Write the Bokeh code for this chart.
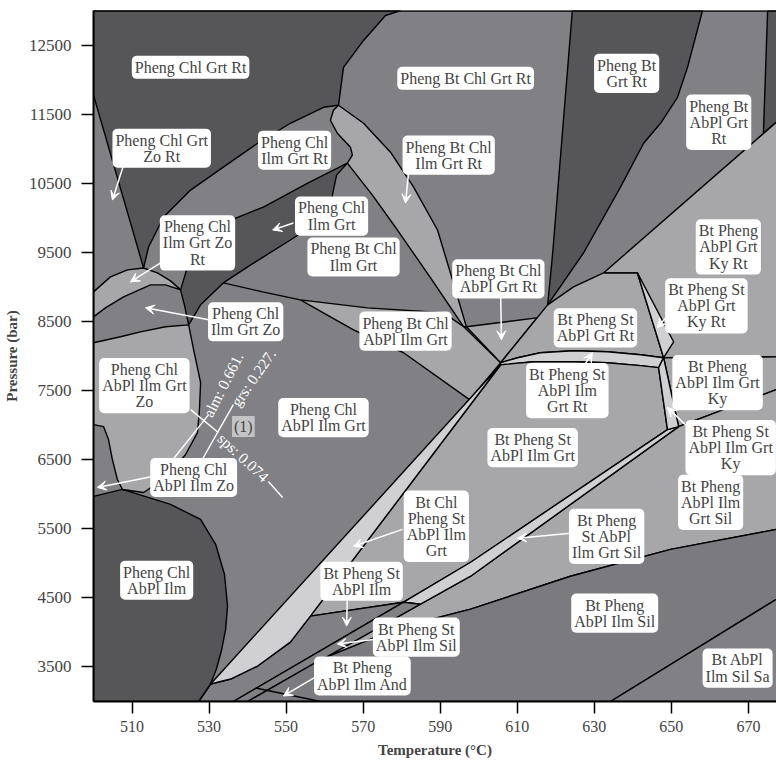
from bokeh.plotting import figure
from bokeh.models import ColumnDataSource, Label, Arrow, VeeHead, FixedTicker, Range1d, Span
from bokeh.embed import file_html
from bokeh.resources import INLINE

FONT = "Liberation Serif"
DARK = "#565659"
MED = "#818185"
LIGHT = "#a7a7aa"
PALE = "#d0d0d2"
SIL = "#7b7b7f"

temp_ticks = [510, 530, 550, 570, 590, 610, 630, 650, 670]
pressure_ticks = [3500, 4500, 5500, 6500, 7500, 8500, 9500, 10500, 11500, 12500]

# ---- stability fields: outlines in (T degC, P bar) ----
chl_grt_rt_T = [500.0, 579.7, 575.8, 570.1, 564.9, 564.1, 563.6, 559.7, 551.1, 542.6, 533.7, 525.2, 518.2, 514.3, 513.0, 500.0]
chl_grt_rt_P = [13000, 13000, 12928, 12567, 12177, 11845, 11628, 11599, 11368, 11079, 10733, 10401, 10011, 9578, 9274, 11773]

chl_ilm_grt_zo_rt_T = [500.0, 504.4, 508.8, 513.0, 516.6, 520.0, 522.6, 518.7, 514.8, 507.8, 503.1, 500.0]
chl_ilm_grt_zo_rt_P = [8928, 9145, 9246, 9274, 9202, 9087, 8957, 9029, 9029, 8856, 8697, 8567]

chl_ilm_grt_T = [522.6, 524.4, 527.8, 533.7, 544.1, 555.6, 565.9, 563.1, 562.0, 562.3, 551.1, 540.8, 533.7, 527.8, 524.7, 523.6]
chl_ilm_grt_P = [8957, 9289, 9679, 9924, 10155, 10502, 10791, 10618, 10329, 10083, 9679, 9318, 9058, 8740, 8451, 8740]

bt_chl_ilm_grt_rt_T = [563.6, 570.1, 577.1, 583.1, 589.3, 593.2, 596.8, 596.1, 587.5, 578.9, 572.4, 565.9, 567.2, 566.7, 563.3, 561.5, 562.3]
bt_chl_ilm_grt_rt_P = [11628, 11368, 10949, 10444, 9823, 9101, 8423, 8423, 9130, 9823, 10329, 10791, 10906, 11022, 11224, 11412, 11556]

bt_chl_abpl_ilm_grt_T = [553.7, 571.1, 590.9, 596.1, 605.7, 597.6, 580.5, 567.5]
bt_chl_abpl_ilm_grt_P = [8812, 8697, 8625, 8423, 7903, 7368, 8047, 8379]

bt_chl_abpl_grt_rt_T = [596.8, 615.1, 605.7]
bt_chl_abpl_grt_rt_P = [8423, 8552, 7903]

bt_grt_rt_T = [624.3, 658.1, 654.2, 651.6, 647.2, 642.8, 636.8, 627.2, 617.9, 619.2]
bt_grt_rt_P = [13000, 13000, 12177, 11744, 11368, 11079, 10444, 9491, 8740, 9491]

corner_T = [675.0, 680.0, 680.0, 673.9]
corner_P = [13000, 13000, 11517, 11224]

grt_ky_rt_T = [680.0, 632.4, 641.2, 648.0, 680.0]
grt_ky_rt_P = [11517, 9202, 9202, 7975, 7989]

st_abpl_grt_rt_T = [617.9, 624.6, 632.4, 641.2, 648.0, 642.0, 633.4, 624.6, 616.0, 610.1, 605.7]
st_abpl_grt_rt_P = [8740, 9000, 9202, 9202, 7975, 8018, 8062, 8076, 8047, 7975, 7903]

st_grt_ky_rt_T = [641.2, 650.6, 648.0]
st_grt_ky_rt_P = [9202, 8206, 7975]

st_ilm_grt_rt_T = [605.7, 610.1, 616.0, 624.6, 633.4, 642.0, 648.0, 646.7, 642.0, 633.4, 624.6, 618.6, 614.2, 605.7]
st_ilm_grt_rt_P = [7903, 7975, 8047, 8076, 8062, 8018, 7975, 7831, 7860, 7903, 7917, 7917, 7917, 7860]

ilm_grt_ky_T = [648.0, 680.0, 680.0, 651.9]
ilm_grt_ky_P = [7975, 7989, 7571, 6978]

ilm_grt_sil_T = [651.9, 680.0, 680.0, 677.3, 649.8, 623.8, 597.9, 579.7, 559.2, 597.9]
ilm_grt_sil_P = [6978, 7571, 5530, 5491, 5202, 4813, 4336, 4076, 3614, 4813]

st_abpl_ilm_grt_T = [556.3, 605.7, 614.2, 618.6, 624.6, 633.4, 642.0, 646.7, 649.0, 597.9, 580.5]
st_abpl_ilm_grt_P = [4235, 7874, 7917, 7917, 7917, 7903, 7860, 7831, 6935, 5015, 4437]

st_ilm_grt_sil_T = [649.0, 597.9, 580.5, 584.9, 597.9, 651.9]
st_ilm_grt_sil_P = [6935, 5015, 4437, 4408, 4813, 6978]

st_ilm_grt_ky_T = [648.0, 651.9, 649.0, 646.7]
st_ilm_grt_ky_P = [7975, 6978, 6935, 7831]

st_abpl_ilm_T = [530.4, 535.6, 542.6, 551.1, 556.3, 580.5, 536.3, 527.3]
st_abpl_ilm_P = [3253, 3325, 3513, 3859, 4235, 4437, 3000, 3000]

st_ilm_sil_T = [580.5, 584.9, 540.0, 536.3]
st_ilm_sil_P = [4437, 4408, 3000, 3000]

chl_st_ilm_grt_T = [530.4, 605.7, 556.3, 551.1, 542.6, 535.6]
chl_st_ilm_grt_P = [3253, 7874, 4235, 3859, 3513, 3325]

ilm_sil_T = [559.2, 579.7, 597.9, 623.8, 649.8, 677.3, 680.0, 680.0, 634.2, 540.0]
ilm_sil_P = [3614, 4076, 4336, 4813, 5202, 5491, 5530, 4574, 3000, 3000]

sil_sa_T = [634.2, 680.0, 680.0]
sil_sa_P = [3000, 4574, 3000]

chl_abpl_ilm_T = [500.0, 507.5, 520.0, 527.8, 531.7, 534.0, 534.8, 534.3, 533.2, 531.9, 530.4, 527.3, 500.0]
chl_abpl_ilm_P = [5968, 6069, 5852, 5636, 5275, 4842, 4379, 4047, 3730, 3470, 3253, 3000, 3000]

chl_abpl_ilm_grt_zo_T = [500.0, 507.0, 512.2, 518.7, 524.7, 526.0, 527.8, 527.5, 527.0, 523.9, 520.0, 516.1, 513.0, 507.5, 506.2, 504.9, 503.9, 502.6, 500.0]
chl_abpl_ilm_grt_zo_P = [8191, 8278, 8350, 8423, 8451, 8090, 7614, 7224, 6892, 6574, 6314, 6141, 6025, 6069, 6213, 6502, 6791, 6978, 7007]

# single reaction lines not closed by a field drawn above
bt_in_line_T = [533.7, 543.9, 553.7]
bt_in_line_P = [9058, 8928, 8812]
and_sil_T = [542.1, 558.9]
and_sil_P = [3195, 3000]

fields = [
    (chl_grt_rt_T, chl_grt_rt_P, DARK),
    (chl_ilm_grt_zo_rt_T, chl_ilm_grt_zo_rt_P, LIGHT),
    (chl_ilm_grt_T, chl_ilm_grt_P, DARK),
    (bt_chl_ilm_grt_rt_T, bt_chl_ilm_grt_rt_P, LIGHT),
    (bt_chl_abpl_ilm_grt_T, bt_chl_abpl_ilm_grt_P, LIGHT),
    (bt_chl_abpl_grt_rt_T, bt_chl_abpl_grt_rt_P, LIGHT),
    (bt_grt_rt_T, bt_grt_rt_P, DARK),
    (corner_T, corner_P, DARK),
    (grt_ky_rt_T, grt_ky_rt_P, LIGHT),
    (st_abpl_grt_rt_T, st_abpl_grt_rt_P, LIGHT),
    (st_grt_ky_rt_T, st_grt_ky_rt_P, PALE),
    (st_ilm_grt_rt_T, st_ilm_grt_rt_P, PALE),
    (ilm_grt_ky_T, ilm_grt_ky_P, LIGHT),
    (ilm_grt_sil_T, ilm_grt_sil_P, LIGHT),
    (st_abpl_ilm_grt_T, st_abpl_ilm_grt_P, LIGHT),
    (st_ilm_grt_sil_T, st_ilm_grt_sil_P, PALE),
    (st_ilm_grt_ky_T, st_ilm_grt_ky_P, PALE),
    (st_abpl_ilm_T, st_abpl_ilm_P, MED),
    (st_ilm_sil_T, st_ilm_sil_P, MED),
    (chl_st_ilm_grt_T, chl_st_ilm_grt_P, PALE),
    (ilm_sil_T, ilm_sil_P, SIL),
    (sil_sa_T, sil_sa_P, MED),
    (chl_abpl_ilm_T, chl_abpl_ilm_P, DARK),
    (chl_abpl_ilm_grt_zo_T, chl_abpl_ilm_grt_zo_P, LIGHT),
]

# field names: (T, P, text)
field_labels = [
    (525.2, 12177, "Pheng Chl Grt Rt"),
    (517.7, 11007, "Pheng Chl Grt\nZo Rt"),
    (552.2, 10978, "Pheng Chl\nIlm Grt Rt"),
    (596.6, 12018, "Pheng Bt Chl Grt Rt"),
    (638.4, 12090, "Pheng Bt\nGrt Rt"),
    (662.3, 11383, "Pheng Bt\nAbPl Grt\nRt"),
    (592.2, 10906, "Pheng Bt Chl\nIlm Grt Rt"),
    (561.8, 10025, "Pheng Chl\nIlm Grt"),
    (527.0, 9636, "Pheng Chl\nIlm Grt Zo\nRt"),
    (567.5, 9433, "Pheng Bt Chl\nIlm Grt"),
    (605.1, 9116, "Pheng Bt Chl\nAbPl Grt Rt"),
    (539.5, 8495, "Pheng Chl\nIlm Grt Zo"),
    (581.0, 8360, "Pheng Bt Chl\nAbPl Ilm Grt"),
    (630.3, 8408, "Bt Pheng St\nAbPl Grt Rt"),
    (659.1, 8726, "Bt Pheng St\nAbPl Grt\nKy Rt"),
    (664.8, 9578, "Bt Pheng\nAbPl Grt\nKy Rt"),
    (513.2, 7571, "Pheng Chl\nAbPl Ilm Grt\nZo"),
    (559.7, 7109, "Pheng Chl\nAbPl Ilm Grt"),
    (526.0, 6242, "Pheng Chl\nAbPl Ilm Zo"),
    (623.0, 7498, "Bt Pheng St\nAbPl Ilm\nGrt Rt"),
    (662.0, 7614, "Bt Pheng\nAbPl Ilm Grt\nKy"),
    (614.0, 6675, "Bt Pheng St\nAbPl Ilm Grt"),
    (665.4, 6675, "Bt Pheng St\nAbPl Ilm Grt\nKy"),
    (660.2, 5881, "Bt Pheng\nAbPl Ilm\nGrt Sil"),
    (589.0, 5535, "Bt Chl\nPheng St\nAbPl Ilm\nGrt"),
    (633.2, 5390, "Bt Pheng\nSt AbPl\nIlm Grt Sil"),
    (516.4, 4755, "Pheng Chl\nAbPl Ilm"),
    (569.6, 4740, "Bt Pheng St\nAbPl Ilm"),
    (583.8, 3932, "Bt Pheng St\nAbPl Ilm Sil"),
    (569.8, 3369, "Bt Pheng\nAbPl Ilm And"),
    (635.3, 4278, "Bt Pheng\nAbPl Ilm Sil"),
    (667.2, 3484, "Bt AbPl\nIlm Sil Sa"),
]

# pointers from a name to a narrow field: (T0, P0, T1, P1)
pointers = [
    (507.8, 10762, 504.9, 10256),
    (581.8, 10661, 581.0, 10213),
    (551.9, 9924, 546.5, 9823),
    (517.4, 9347, 509.6, 9072),
    (605.7, 8885, 605.9, 8235),
    (529.9, 8524, 513.5, 8697),
    (648.5, 8552, 646.4, 8408),
    (515.3, 6257, 501.0, 6098),
    (627.2, 7845, 629.5, 8047),
    (654.2, 6978, 649.0, 7253),
    (580.2, 5491, 567.5, 5246),
    (623.8, 5434, 610.1, 5361),
    (565.9, 4509, 565.7, 4091),
    (573.7, 3903, 563.3, 3831),
    (557.6, 3354, 549.3, 3080),
]

# garnet isopleth annotation at point (1)
iso_leaders_T = [[520.0, 529.9], [527.8, 536.3], [525.2, 532.4], [545.4, 549.1]]
iso_leaders_P = [[6459, 7152], [6459, 7296], [7224, 6892], [6184, 5953]]
iso_texts = [
    (533.7, 7585, 63, "alm: 0.661."),
    (541.5, 7686, 55, "grs: 0.227."),
    (538.9, 6531, -43, "sps: 0.074"),
]
point_one = (538.9, 6978, "(1)")

p = figure(width=776, height=760, x_range=Range1d(500, 677.3), y_range=Range1d(3000, 13000),
           output_backend="svg", toolbar_location=None,
           min_border_left=93, min_border_right=0, min_border_top=10, min_border_bottom=58)
p.background_fill_color = MED
p.border_fill_color = "white"
p.outline_line_color = None
p.grid.visible = False

src = ColumnDataSource(dict(xs=[f[0] for f in fields], ys=[f[1] for f in fields],
                            color=[f[2] for f in fields]))
p.patches("xs", "ys", source=src, fill_color="color", line_color="black", line_width=1.4)
p.multi_line([bt_in_line_T, and_sil_T], [bt_in_line_P, and_sil_P], line_color="black", line_width=1.4)
p.multi_line(iso_leaders_T, iso_leaders_P, line_color="white", line_width=1.4)

# upper frame edge
p.add_layout(Span(location=13000, dimension="width", line_color="black", line_width=2.5))

for t0, p0, t1, p1 in pointers:
    p.add_layout(Arrow(end=VeeHead(size=9, fill_color="white", line_color="white"),
                       x_start=t0, y_start=p0, x_end=t1, y_end=p1,
                       line_color="white", line_width=1.5))

for t, pr, ang, txt in iso_texts:
    p.add_layout(Label(x=t, y=pr, text=txt, angle=ang, angle_units="deg",
                       text_align="center", text_baseline="middle", text_color="white",
                       text_font=FONT, text_font_size="15.5px"))

p.add_layout(Label(x=point_one[0], y=point_one[1], text=point_one[2], text_align="center",
                   text_baseline="middle", text_font=FONT, text_font_size="16px",
                   background_fill_color="#c4c4c6", padding=2))

for t, pr, txt in field_labels:
    p.add_layout(Label(x=t, y=pr, text=txt, text_align="center", text_baseline="middle",
                       text_font=FONT, text_font_size="16px", text_line_height=0.95,
                       background_fill_color="white", border_radius=5, padding=3))

p.xaxis.ticker = FixedTicker(ticks=temp_ticks)
p.yaxis.ticker = FixedTicker(ticks=pressure_ticks)
p.axis.minor_tick_line_color = None
p.axis.major_tick_in = 0
p.axis.major_tick_out = 12
p.axis.major_tick_line_width = 1.5
p.axis.axis_line_width = 2
p.axis.major_label_text_font = FONT
p.xaxis.major_label_text_font_size = "16px"
p.yaxis.major_label_text_font_size = "17px"
p.xaxis.major_label_standoff = 7
p.yaxis.major_label_standoff = 10
p.axis.axis_label_text_font = FONT
p.axis.axis_label_text_font_style = "bold"
p.axis.axis_label_text_font_size = "15px"
p.xaxis.axis_label_standoff = 7
p.yaxis.axis_label_standoff = 6
p.xaxis.axis_label = "Temperature (°C)"
p.yaxis.axis_label = "Pressure (bar)"

open("out.html", "w").write(file_html(p, INLINE))
